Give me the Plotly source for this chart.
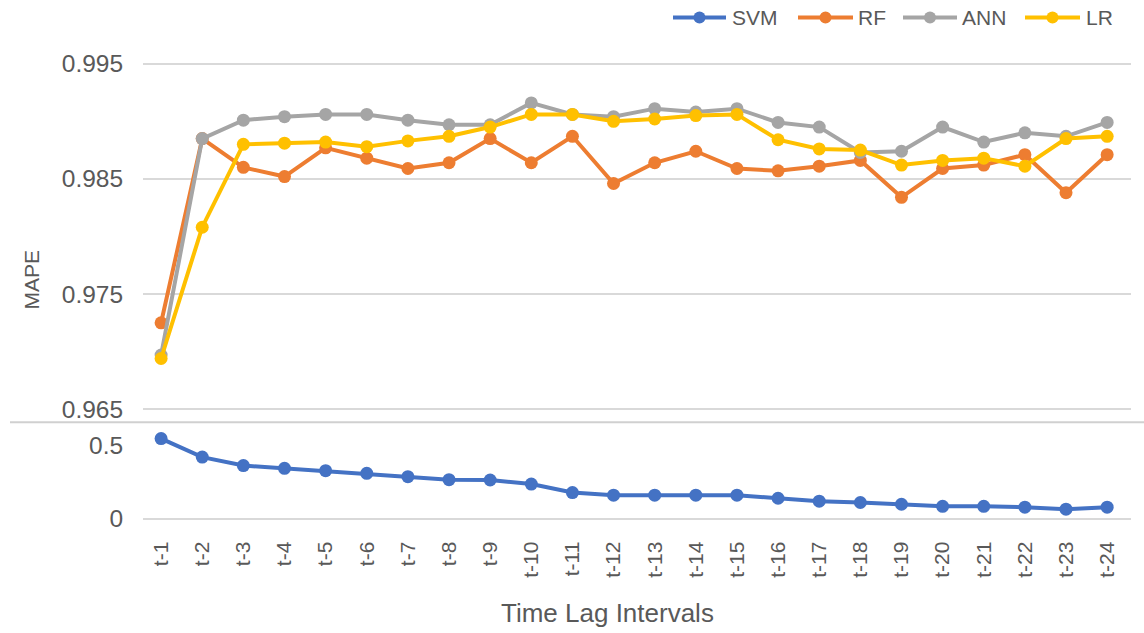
import plotly.graph_objects as go

labels = ["t-1", "t-2", "t-3", "t-4", "t-5", "t-6", "t-7", "t-8", "t-9", "t-10", "t-11", "t-12",
          "t-13", "t-14", "t-15", "t-16", "t-17", "t-18", "t-19", "t-20", "t-21", "t-22", "t-23", "t-24"]

svm = [0.546, 0.419, 0.361, 0.342, 0.326, 0.308, 0.285, 0.264, 0.262, 0.234, 0.176, 0.158,
       0.158, 0.158, 0.158, 0.137, 0.117, 0.108, 0.096, 0.082, 0.082, 0.076, 0.062, 0.076]
rf = [0.9725, 0.9885, 0.9860, 0.9852, 0.9877, 0.9868, 0.9859, 0.9864, 0.9885, 0.9864, 0.9887, 0.9846,
      0.9864, 0.9874, 0.9859, 0.9857, 0.9861, 0.9866, 0.9834, 0.9859, 0.9862, 0.9871, 0.9838, 0.9871]
ann = [0.9697, 0.9885, 0.9901, 0.9904, 0.9906, 0.9906, 0.9901, 0.9897, 0.9897, 0.9916, 0.9906, 0.9904,
       0.9911, 0.9908, 0.9911, 0.9899, 0.9895, 0.9873, 0.9874, 0.9895, 0.9882, 0.9890, 0.9887, 0.9899]
lr = [0.9694, 0.9808, 0.9880, 0.9881, 0.9882, 0.9878, 0.9883, 0.9887, 0.9895, 0.9906, 0.9906, 0.9900,
      0.9902, 0.9905, 0.9906, 0.9884, 0.9876, 0.9875, 0.9862, 0.9866, 0.9868, 0.9861, 0.9885, 0.9887]

series_names = ["SVM", "RF", "ANN", "LR"]

W, H = 1144, 633
FONT = "Liberation Sans, Arial, sans-serif"
TXT = "#595959"
GRID = "#d9d9d9"

colors = {"SVM": "#4472C4", "RF": "#ED7D31", "ANN": "#A5A5A5", "LR": "#FFC000"}

# empirical vertical mapping of the rendered page
YA, YB = 0.974, 1.5

def px_x(p):
    return p / W

def px_y(p):
    return 1 - (p - YB) / (YA * H)

fig = go.Figure()

def add(name, y, xa, ya):
    fig.add_trace(go.Scatter(
        x=labels, y=y, name=name, mode="lines+markers", xaxis=xa, yaxis=ya,
        line=dict(color=colors[name], width=4),
        marker=dict(color=colors[name], size=13),
        showlegend=False,
    ))

add("SVM", svm, "x2", "y2")
add("RF", rf, "x", "y")
add("ANN", ann, "x", "y")
add("LR", lr, "x", "y")

xr = [-0.44, 23.58]
xdom = [px_x(143), px_x(1131)]

# top panel: 0.965 at 409 px, 0.995 at 64 px; panel from 40 to 422 px
top_ppu = (409 - 65) / 0.03
top_range = [0.965 - (422 - 409) / top_ppu, 0.995 + (65 - 40) / top_ppu]
# bottom panel: 0 at 517.7 px, 0.5 at 445 px; panel from 422 to 517.7 px
bot_ppu = (517.7 - 445) / 0.5
bot_range = [0, (517.7 - 422) / bot_ppu]

shapes = [dict(type="line", xref="paper", yref="paper",
               x0=px_x(10), x1=1, y0=px_y(422), y1=px_y(422),
               line=dict(color="#d0d0d0", width=2))]
annotations = [
    dict(text="Time Lag Intervals", xref="paper", yref="paper",
         x=px_x(607), y=px_y(612), xanchor="center", yanchor="middle",
         showarrow=False, font=dict(size=26, color=TXT)),
    dict(text="MAPE", xref="paper", yref="paper", textangle=-90,
         x=px_x(32), y=px_y(280), xanchor="center", yanchor="middle",
         showarrow=False, font=dict(size=21, color=TXT)),
]

# custom legend (line sample with marker, then label)
leg_y = 19
leg_items = [(673, 726, 730), (798, 853, 856), (903, 957, 960), (1025, 1080, 1084)]
for name, (l0, l1, tx) in zip(series_names, leg_items):
    c = colors[name]
    shapes.append(dict(type="line", xref="paper", yref="paper",
                       x0=px_x(l0), x1=px_x(l1), y0=px_y(leg_y), y1=px_y(leg_y),
                       line=dict(color=c, width=4)))
    cx = (l0 + l1) / 2
    shapes.append(dict(type="circle", xref="paper", yref="paper",
                       x0=px_x(cx - 6), x1=px_x(cx + 6),
                       y0=px_y(leg_y + 6), y1=px_y(leg_y - 6),
                       fillcolor=c, line=dict(color=c, width=0)))
    annotations.append(dict(text=name, xref="paper", yref="paper",
                            x=px_x(tx), y=px_y(leg_y), xanchor="left", yanchor="middle",
                            showarrow=False, font=dict(size=21, color=TXT)))

fig.update_layout(
    width=W, height=H,
    margin=dict(l=0, r=0, t=0, b=0),
    paper_bgcolor="white", plot_bgcolor="white",
    font=dict(family=FONT, color=TXT),
    showlegend=False,
    xaxis=dict(domain=xdom, range=xr, type="category", anchor="y", matches="x2",
               showticklabels=False, showgrid=False, showline=False, zeroline=False),
    yaxis=dict(domain=[px_y(422), px_y(40)], range=top_range, anchor="x",
               tickvals=[0.965, 0.975, 0.985, 0.995], ticktext=["0.965", "0.975", "0.985", "0.995"],
               showgrid=True, gridcolor=GRID, gridwidth=2, zeroline=False, showline=False,
               ticks="outside", ticklen=14, tickcolor="rgba(0,0,0,0)",
               tickfont=dict(size=24.5, color=TXT)),
    xaxis2=dict(domain=xdom, range=xr, type="category", anchor="y2",
                tickangle=-90, tickfont=dict(size=21, color=TXT),
                ticks="outside", ticklen=13, tickcolor="rgba(0,0,0,0)",
                showgrid=False, showline=True, linecolor=GRID, linewidth=2, zeroline=False),
    yaxis2=dict(domain=[px_y(517.7), px_y(422)], range=bot_range, anchor="x2",
                tickvals=[0, 0.5], ticktext=["0", "0.5"],
                showgrid=False, zeroline=False, showline=False,
                ticks="outside", ticklen=14, tickcolor="rgba(0,0,0,0)",
                tickfont=dict(size=24.5, color=TXT)),
    shapes=shapes,
    annotations=annotations,
)

fig.write_html("out.html")
